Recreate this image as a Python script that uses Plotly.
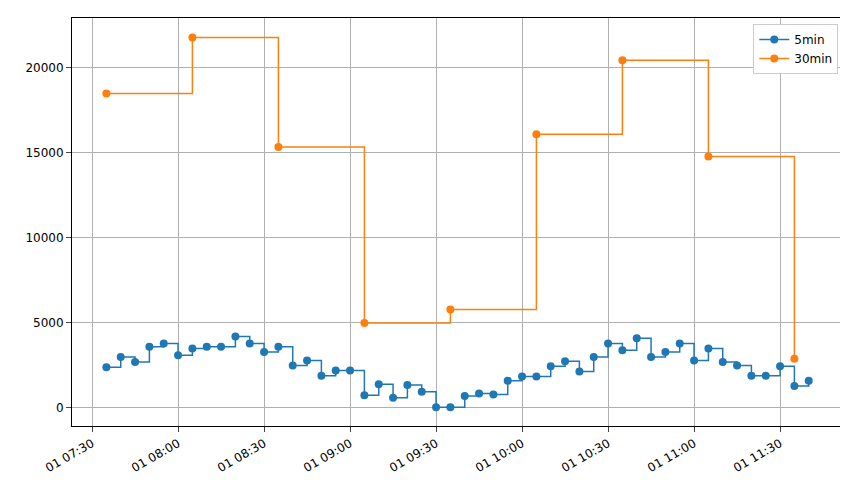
import pandas as pd
import plotly.graph_objects as go

t5 = pd.date_range("2000-01-01 07:35", "2000-01-01 11:40", freq="5min")
v5 = [2400, 3000, 2700, 3600, 3800, 3100, 3500, 3600, 3600, 4200,
      3800, 3300, 3600, 2500, 2800, 1900, 2200, 2200, 750, 1400,
      600, 1350, 950, 50, 50, 700, 850, 800, 1600, 1850,
      1850, 2450, 2750, 2150, 3000, 3800, 3400, 4100, 3000, 3300,
      3800, 2800, 3500, 2700, 2500, 1900, 1900, 2450, 1300, 1600]
t30 = pd.date_range("2000-01-01 07:35", "2000-01-01 11:35", freq="30min")
v30 = [18500, 21800, 15350, 5000, 5800, 16100, 20450, 14800, 2900]

tickvals = pd.date_range("2000-01-01 07:30", "2000-01-01 11:30", freq="30min")
ticktext = [d.strftime("01 %H:%M") for d in tickvals]
yticks = [0, 5000, 10000, 15000, 20000]

fig = go.Figure()
fig.add_trace(go.Scatter(x=t5, y=v5, name="5min", mode="lines+markers",
                         line=dict(color="#1f77b4", shape="hv", width=1.5),
                         marker=dict(size=8)))
fig.add_trace(go.Scatter(x=t30, y=v30, name="30min", mode="lines+markers",
                         line=dict(color="#ff7f0e", shape="hv", width=1.5),
                         marker=dict(size=8)))

fig.update_layout(
    width=848, height=480, plot_bgcolor="white", paper_bgcolor="white",
    margin=dict(l=64, r=10, t=10, b=62),
    font=dict(family="DejaVu Sans", size=12, color="black"),
    legend=dict(x=0.99, y=0.985, xanchor="right", yanchor="top",
                bordercolor="#cccccc", borderwidth=1, bgcolor="white"),
)
fig.update_xaxes(range=["2000-01-01 07:23", "2000-01-01 11:53"],
                 tickvals=tickvals, ticktext=ticktext, tickangle=-30, automargin=False,
                 showgrid=True, gridcolor="#b0b0b0", showline=True, mirror=True,
                 linecolor="black", ticks="outside", zeroline=False)
fig.update_yaxes(range=[-1060, 22940], tickvals=yticks, ticktext=[str(v) for v in yticks],
                 automargin=False,
                 showgrid=True, gridcolor="#b0b0b0", showline=True, mirror=True,
                 linecolor="black", ticks="outside", zeroline=False)

fig.write_html("out.html")
